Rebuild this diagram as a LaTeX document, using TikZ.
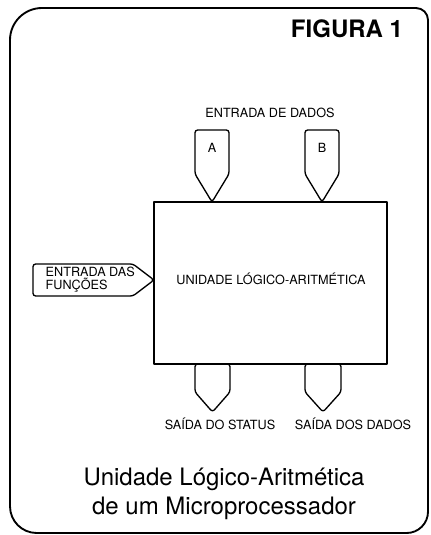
\documentclass[tikz,border=0pt]{standalone}
\usepackage{fontspec}
\setmainfont{TeX Gyre Heros}
\tikzset{
 frame/.style={line width=1.4pt},
 part/.style={line width=1pt, line join=round},
 pent/.style={part, rounded corners=2pt},
 lbl/.style={font=\fontsize{9.5}{10}\selectfont},
}

\begin{document}
\begin{tikzpicture}[x=0.75pt,y=-0.75pt]
    \useasboundingbox (0,0) rectangle (431,535);
    % moldura
    \draw[frame] (10,280) [rounded corners=24pt] -- (10,8) [rounded corners=9pt] -- (428,8)
        [rounded corners=16pt] -- (428,533) [rounded corners=20pt] -- (10,533) -- cycle;
    \node[font=\fontsize{18}{20}\selectfont\bfseries] (fig) at (347,29) {FIGURA 1};

    % ULA
    \draw[part] (154,202) rectangle (387,364);
    \node[lbl] (ula) at (271,279) {UNIDADE LÓGICO-ARITMÉTICA};

    % entradas de dados
    \node[lbl] (entdados) at (270,113) {ENTRADA DE DADOS};
    \draw[pent] (212,130) -- (229,130) -- (229,174) -- (212,202) -- (195,174) -- (195,130) -- cycle;
    \node[lbl] (a) at (212,148) {A};
    \draw[pent] (322,130) -- (339,130) -- (339,174) -- (322,202) -- (305,174) -- (305,130) -- cycle;
    \node[lbl] (b) at (322,148) {B};

    % entrada das funcoes
    \draw[pent] (33,280) -- (33,264) -- (133,264) -- (154,280) -- (133,296) -- (33,296) -- cycle;
    \node[lbl, align=left, anchor=west] (func) at (41,280) {ENTRADA DAS\\FUNÇÕES};

    % saidas
    \draw[pent] (212.5,364) -- (230,364) -- (230,392) -- (212.5,412) -- (195,392) -- (195,364) -- cycle;
    \node[lbl] (status) at (220,424) {SAÍDA DO STATUS};
    \draw[pent] (323,364) -- (341,364) -- (341,392) -- (323,412) -- (305,392) -- (305,364) -- cycle;
    \node[lbl] (dados) at (353,424) {SAÍDA DOS DADOS};

    \node[font=\fontsize{18}{22}\selectfont, align=center] (legenda) at (224,494)
        {Unidade Lógico-Aritmética\\de um Microprocessador};
\end{tikzpicture}
\end{document}
